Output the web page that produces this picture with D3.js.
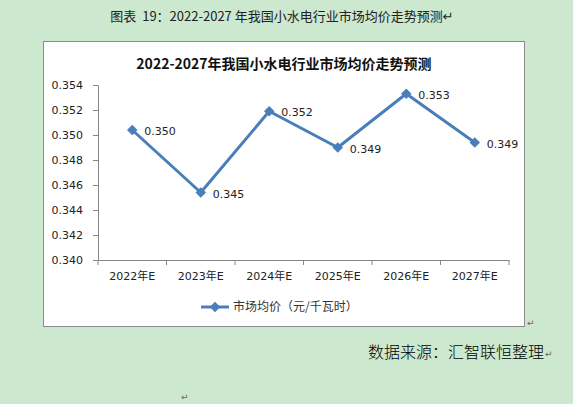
<!DOCTYPE html>
<html>
<head>
<meta charset="utf-8">
<script src="https://cdn.jsdelivr.net/npm/d3@7"></script>
<style>
  body { margin: 0; background: #cce8cf; }
  svg { display: block; }
</style>
</head>
<body>
<div id="chart"></div>
<script>
const years = ["2022年E", "2023年E", "2024年E", "2025年E", "2026年E", "2027年E"];
const prices = [0.3504, 0.3454, 0.3519, 0.3490, 0.3533, 0.3494];
const priceLabels = ["0.350", "0.345", "0.352", "0.349", "0.353", "0.349"];
const yTicks = [0.340, 0.342, 0.344, 0.346, 0.348, 0.350, 0.352, 0.354];
const seriesName = "市场均价（元/千瓦时）";

const W = 573, H = 404;
const cjk = "'Noto Sans CJK SC', 'DejaVu Sans', sans-serif";
const latin = "'DejaVu Sans', 'Noto Sans CJK SC', sans-serif";
const blue = "#4a7ebb";

const svg = d3.select("#chart").append("svg")
    .attr("width", W)
    .attr("height", H);

svg.append("rect").attr("width", W).attr("height", H).attr("fill", "#cce8cf");

// document caption
svg.append("text")
    .attr("x", 282)
    .attr("y", 21)
    .attr("text-anchor", "middle")
    .attr("font-family", cjk)
    .attr("font-size", "13px")
    .attr("fill", "#222")
    .attr("xml:space", "preserve")
    .text("图表  19：2022-2027 年我国小水电行业市场均价走势预测↵");

// chart frame
svg.append("rect")
    .attr("x", 43.5).attr("y", 41.5)
    .attr("width", 481).attr("height", 285)
    .attr("fill", "#fff")
    .attr("stroke", "#8c8c8c");

svg.append("text")
    .attr("x", 284)
    .attr("y", 69)
    .attr("text-anchor", "middle")
    .attr("font-family", cjk)
    .attr("font-size", "14px")
    .attr("font-weight", "bold")
    .attr("fill", "#111")
    .text("2022-2027年我国小水电行业市场均价走势预测");

const plot = { left: 98, right: 509, top: 85, bottom: 260 };

const x = d3.scaleBand()
    .domain(years)
    .range([plot.left, plot.right]);

const y = d3.scaleLinear()
    .domain([0.340, 0.354])
    .range([plot.bottom, plot.top]);

// x axis
const xAxis = svg.append("g")
    .attr("transform", `translate(0,${plot.bottom})`)
    .call(d3.axisBottom(x).tickSizeInner(0).tickSizeOuter(0).tickPadding(12));
xAxis.select(".domain").attr("stroke", "#868686");
xAxis.selectAll("text")
    .attr("font-family", latin)
    .attr("font-size", "11px")
    .attr("fill", "#222");
// tick marks at band boundaries
xAxis.selectAll(".bound")
    .data(years.map(d => x(d)).concat([plot.right]))
    .enter()
    .append("line")
    .attr("x1", d => d).attr("x2", d => d)
    .attr("y1", 0).attr("y2", 5)
    .attr("stroke", "#868686");

// y axis
const yAxis = svg.append("g")
    .attr("transform", `translate(${plot.left},0)`)
    .call(d3.axisLeft(y).tickValues(yTicks).tickFormat(d3.format(".3f")).tickSize(5).tickSizeOuter(0).tickPadding(10));
yAxis.select(".domain").attr("stroke", "#868686");
yAxis.selectAll("line").attr("stroke", "#868686");
yAxis.selectAll("text")
    .attr("font-family", latin)
    .attr("font-size", "11px")
    .attr("fill", "#222");

// line
const pts = years.map((d, i) => ({ year: d, v: prices[i], label: priceLabels[i] }));
const line = d3.line()
    .x(d => x(d.year) + x.bandwidth() / 2)
    .y(d => y(d.v));

svg.append("path")
    .datum(pts)
    .attr("d", line)
    .attr("fill", "none")
    .attr("stroke", blue)
    .attr("stroke-width", 3)
    .attr("stroke-linejoin", "round");

const diamond = d3.symbol().type(d3.symbolDiamond2).size(70);
svg.selectAll(".pt")
    .data(pts)
    .enter()
    .append("path")
    .attr("class", "pt")
    .attr("d", diamond)
    .attr("transform", d => `translate(${x(d.year) + x.bandwidth() / 2},${y(d.v)})`)
    .attr("fill", blue);

svg.selectAll(".lbl")
    .data(pts)
    .enter()
    .append("text")
    .attr("class", "lbl")
    .attr("x", d => x(d.year) + x.bandwidth() / 2 + 12)
    .attr("y", d => y(d.v) + 5)
    .attr("font-family", latin)
    .attr("font-size", "11px")
    .attr("fill", "#222")
    .text(d => d.label);

// legend
const lg = svg.append("g").attr("transform", "translate(201,307)");
lg.append("line")
    .attr("x1", 0).attr("x2", 28)
    .attr("stroke", blue).attr("stroke-width", 3);
lg.append("path")
    .attr("d", diamond)
    .attr("transform", "translate(14,0)")
    .attr("fill", blue);
lg.append("text")
    .attr("x", 32)
    .attr("y", 4)
    .attr("font-family", cjk)
    .attr("font-size", "12px")
    .attr("fill", "#333")
    .text(seriesName);

// return marks and source
svg.append("text")
    .attr("x", 527).attr("y", 326)
    .attr("font-family", latin).attr("font-size", "9px").attr("fill", "#666")
    .text("↵");

svg.append("text")
    .attr("x", 368)
    .attr("y", 358)
    .attr("font-family", cjk)
    .attr("font-size", "16px")
    .attr("font-weight", "300")
    .attr("fill", "#000")
    .text("数据来源：汇智联恒整理");
svg.append("text")
    .attr("x", 545).attr("y", 357)
    .attr("font-family", latin).attr("font-size", "9px").attr("fill", "#666")
    .text("↵");
svg.append("text")
    .attr("x", 181).attr("y", 400)
    .attr("font-family", latin).attr("font-size", "9px").attr("fill", "#666")
    .text("↵");
</script>
</body>
</html>
